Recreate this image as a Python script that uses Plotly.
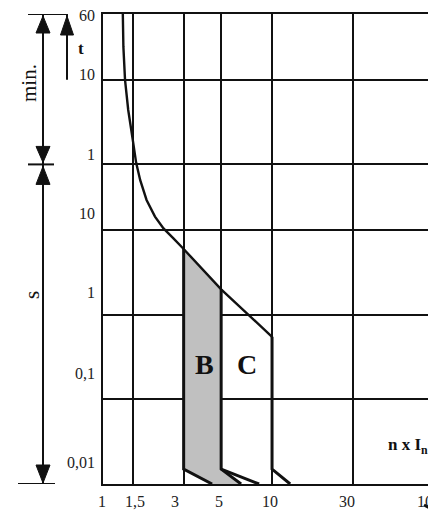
import math
import plotly.graph_objects as go

# ---------------- data ----------------
x_tick_values = [1, 1.5, 3, 5, 10, 30, 100]
x_tick_labels = ["1", "1,5", "3", "5", "10", "30", "100"]
y_tick_values = [3600, 600, 60, 10, 1, 0.1, 0.01]          # time in seconds
y_tick_labels = ["60", "10", "1", "10", "1", "0,1", "0,01"]

# common thermal (overload) limit: multiple of In vs trip time [s]
thermal_n = [1.31, 1.32, 1.35, 1.41, 1.50, 1.57, 1.66, 1.81, 2.03, 2.28, 2.61, 3.0, 5.0, 10.0]
thermal_t = [3600, 1480, 600, 264, 117, 63, 39, 22.8, 14.5, 10.5, 8.0, 6.0, 2.0, 0.55]

# magnetic (instantaneous) limits
b_left_n = [3, 3, 4.42]
b_left_t = [6.0, 0.015, 0.01]
b_right_n = [5, 5, 6.56]
b_right_t = [2.0, 0.015, 0.01]
c_left_n = [5, 8.38]
c_left_t = [0.015, 0.01]
c_right_n = [10, 10, 12.8]
c_right_t = [0.55, 0.015, 0.01]

# ---------------- styling ----------------
SERIF = "Liberation Serif"
INK = "#111111"
GRID_W = 2
X_RANGE = [0, 1.970]          # log10 range of the n x In axis
x_label_shift = [-1.5, 2, -8.5, -2, -2, -6, -12]
y_label_shift = [-1, 5, 10, 17, 22, 26, 22]


def xpaper(v):
    return (math.log10(v) - X_RANGE[0]) / (X_RANGE[1] - X_RANGE[0])


fig = go.Figure()

# B band fill (between 3 In and 5 In)
i0 = thermal_n.index(b_left_n[0])
i1 = thermal_n.index(b_right_n[0])
poly_n = thermal_n[i0:i1 + 1] + b_right_n[1:] + b_left_n[::-1]
poly_t = thermal_t[i0:i1 + 1] + b_right_t[1:] + b_left_t[::-1]
fig.add_trace(go.Scatter(x=poly_n, y=poly_t, mode="lines", fill="toself",
                         fillcolor="#c0c0c0", line=dict(width=0), hoverinfo="skip"))

# thermal curve
fig.add_trace(go.Scatter(x=thermal_n, y=thermal_t, mode="lines",
                         line=dict(color=INK, width=2.4), hoverinfo="skip"))
# magnetic limits
for xs, ys in [(b_left_n, b_left_t), (b_right_n, b_right_t),
               (c_left_n, c_left_t), (c_right_n, c_right_t)]:
    fig.add_trace(go.Scatter(x=xs, y=ys, mode="lines",
                             line=dict(color=INK, width=3), hoverinfo="skip"))

annotations = []
# x tick labels (paper-referenced so the clipped "100" is still drawn)
for v, lab, sh in zip(x_tick_values, x_tick_labels, x_label_shift):
    annotations.append(dict(x=xpaper(v), y=0, xref="paper", yref="paper", text=lab,
                            showarrow=False, xanchor="center", yanchor="middle",
                            yshift=-17, xshift=sh,
                            font=dict(family=SERIF, size=16, color="#222")))
# y tick labels
for v, lab, sh in zip(y_tick_values, y_tick_labels, y_label_shift):
    annotations.append(dict(x=0, y=math.log10(v), xref="paper", yref="y", text=lab,
                            showarrow=False, xanchor="right", yanchor="middle",
                            xshift=-6, yshift=sh,
                            font=dict(family=SERIF, size=16, color="#222")))

# unit texts
annotations += [
    dict(x=0, y=math.log10(550), xref="paper", yref="y", text="min.", textangle=-90,
         showarrow=False, xanchor="center", yanchor="middle", xshift=-74,
         font=dict(family=SERIF, size=21, color=INK)),
    dict(x=0, y=math.log10(1.72), xref="paper", yref="y", text="s", textangle=-90,
         showarrow=False, xanchor="center", yanchor="middle", xshift=-71,
         font=dict(family=SERIF, size=21, color=INK)),
    dict(x=0, y=math.log10(1390), xref="paper", yref="y", text="<b>t</b>",
         showarrow=False, xanchor="center", yanchor="middle", xshift=-22,
         font=dict(family=SERIF, size=17, color=INK)),
    dict(x=math.log10(3.96), y=math.log10(0.26), xref="x", yref="y", text="<b>B</b>",
         showarrow=False, font=dict(family=SERIF, size=28, color=INK)),
    dict(x=math.log10(7.11), y=math.log10(0.26), xref="x", yref="y", text="<b>C</b>",
         showarrow=False, font=dict(family=SERIF, size=28, color=INK)),
    dict(x=1, y=math.log10(0.028), xref="paper", yref="y",
         text="<b>n x I<sub>n</sub></b>", showarrow=False, xanchor="right",
         xshift=-6, yanchor="middle", font=dict(family=SERIF, size=17, color=INK)),
]

# ---------------- decorations (axis brackets & arrows) ----------------
def pix_line(x0, x1, yanchor, width=2):
    return dict(type="line", xref="paper", xsizemode="pixel", xanchor=0, x0=x0, x1=x1,
                yref="y", ysizemode="pixel", yanchor=yanchor, y0=0, y1=0,
                line=dict(color=INK, width=width))

def vline(x, ya, yb, width=2):
    return dict(type="line", xref="paper", xsizemode="pixel", xanchor=0, x0=x, x1=x,
                yref="y", y0=ya, y1=yb, line=dict(color=INK, width=width))

def head(x, yanchor, tip, base, half=7):
    path = f"M {x - half},{base} L {x + half},{base} L {x},{tip} Z"
    return dict(type="path", path=path, xref="paper", xsizemode="pixel", xanchor=0,
                yref="y", ysizemode="pixel", yanchor=yanchor,
                fillcolor=INK, line=dict(color=INK, width=1))

t_max, t_min_end, t_min = y_tick_values[0], y_tick_values[2], y_tick_values[-1]
shapes = [
    pix_line(-75, -36, t_max),
    pix_line(-75, -49, t_min_end),
    pix_line(-85, -48, t_min),
    vline(-60, t_max, t_min_end),
    vline(-60, t_min_end, t_min),
    head(-60, t_max, -2, -19),
    head(-60, t_min_end, 2, 18),
    head(-60, t_min_end, -2, -20),
    head(-60, t_min, 1, 19),
    vline(-36, y_tick_values[1], t_max),
    head(-36, t_max, -2, -21, half=6.5),
    # cut-off tip of the current-axis arrow at the lower right corner
    dict(type="line", xref="paper", xsizemode="pixel", xanchor=1, x0=-12, x1=-2,
         yref="paper", ysizemode="pixel", yanchor=0, y0=-21, y1=-26,
         line=dict(color=INK, width=3)),
]

# page body has an 8 px default margin: figure is shifted accordingly;
# the plot runs to the window's right edge, the figure a little beyond it
fig.update_layout(
    width=436, height=504,
    margin=dict(l=95, r=8, t=6, b=28, autoexpand=False),
    paper_bgcolor="white", plot_bgcolor="white",
    showlegend=False,
    annotations=annotations, shapes=shapes,
    xaxis=dict(type="log", range=X_RANGE, tickvals=x_tick_values,
               showticklabels=False, ticks="", showgrid=True, gridcolor=INK,
               gridwidth=GRID_W, showline=True, linecolor=INK, linewidth=GRID_W,
               mirror=True, zeroline=False, fixedrange=True),
    yaxis=dict(type="log", range=[math.log10(t_min), math.log10(t_max)],
               tickvals=y_tick_values, showticklabels=False, ticks="",
               showgrid=True, gridcolor=INK, gridwidth=GRID_W, showline=True,
               linecolor=INK, linewidth=GRID_W, mirror=False, zeroline=False,
               fixedrange=True),
)

fig.write_html("out.html")
